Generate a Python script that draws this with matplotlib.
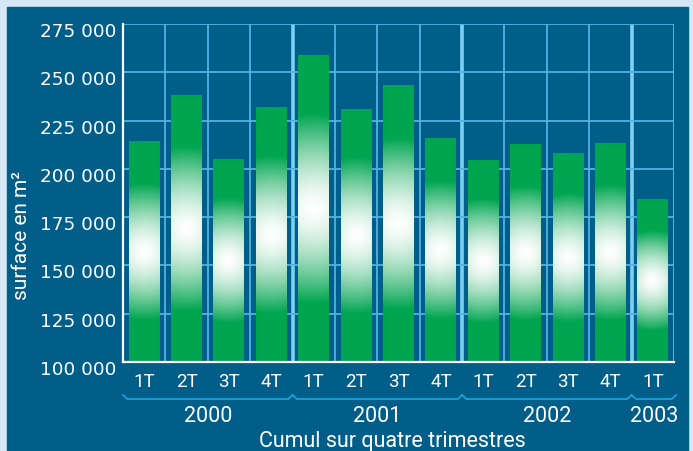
import matplotlib
matplotlib.use('Agg')
import matplotlib.pyplot as plt
import matplotlib.transforms as mtransforms
import numpy as np

# surfaces cumulated over four quarters, in m2
quarters = ['1T', '2T', '3T', '4T', '1T', '2T', '3T', '4T',
            '1T', '2T', '3T', '4T', '1T']
surface = [214400, 238200, 204600, 232000,
           258900, 230500, 242900, 215500,
           204100, 212400, 207700, 212900,
           183900]
years = ['2000', '2001', '2002', '2003']
quarters_per_year = [4, 4, 4, 1]
yticks = [100000, 125000, 150000, 175000, 200000, 225000, 250000, 275000]

BG = '#005e88'
PAGE = '#d6e7f4'
GREEN = np.array([0, 165, 80]) / 255
GRID = '#4fb3e3'
SEP = '#7dd0f5'
BRACE = '#1ea5e0'
YMIN, YMAX = 100000, 275000
BAR_W = 0.73

fig = plt.figure(figsize=(6.93, 4.52), dpi=100)
fig.patch.set_facecolor(PAGE)
# dark panel behind the chart
fig.patches.append(plt.Rectangle((7 / 693, 0), 681 / 693, 444 / 452,
                                 transform=fig.transFigure,
                                 color=BG, zorder=-10))

ax = fig.add_axes([123 / 693, 89 / 452, 551 / 693, 338 / 452])
ax.set_facecolor(BG)
n = len(surface)

# grid: thin lines between quarters, thicker ones between years
bounds = np.cumsum(quarters_per_year)[:-1] - 0.5
for k in range(n - 1):
    x = k + 0.5
    if x in bounds:
        ax.axvline(x, color=SEP, lw=2.6, zorder=1)
    else:
        ax.axvline(x, color=GRID, lw=1.3, zorder=1)
for y in yticks[1:]:
    ax.axhline(y, color=GRID, lw=1.3, zorder=1)
ax.axvline(n - 0.5, color=GRID, lw=1.5, zorder=1)

# bars filled with a round white glow in the middle
px_x = 551 / n
px_y = 338 / (YMAX - YMIN)
for i, v in enumerate(surface):
    h = v - YMIN
    ny, nx = 300, 40
    xs = (np.linspace(-BAR_W / 2, BAR_W / 2, nx)) * px_x
    ys = (np.linspace(0, h, ny) - h / 2) * px_y
    X, Y = np.meshgrid(xs, ys)
    radius = 0.31 * h * px_y
    r = np.sqrt(X ** 2 + Y ** 2) / radius
    t = np.clip(1 - r ** 1.5, 0, 1)[..., None]
    img = GREEN * (1 - t) + t
    ax.imshow(img, extent=[i - BAR_W / 2, i + BAR_W / 2, YMIN, v],
              origin='lower', aspect='auto', zorder=2, interpolation='bilinear')
ax.set_xlim(-0.5, n - 0.5)
ax.set_ylim(YMIN, YMAX)

for side in ['top', 'right']:
    ax.spines[side].set_visible(False)
for side in ['left', 'bottom']:
    ax.spines[side].set_color('white')
    ax.spines[side].set_linewidth(1.6)
    ax.spines[side].set_zorder(3)

ax.set_yticks(yticks)
ax.set_yticklabels([f'{t:,}'.replace(',', ' ') for t in yticks],
                   fontsize=13.2, color='white', family='DejaVu Sans')
ax.set_xticks(range(n))
ax.set_xticklabels(quarters, fontsize=13.5, color='white', family='Roboto')
ax.tick_params(length=0)
ax.tick_params(axis='y', pad=5)
ax.tick_params(axis='x', pad=7)
shift = mtransforms.ScaledTranslation(0, -5 / 100, fig.dpi_scale_trans)
for lbl in ax.get_yticklabels():
    lbl.set_transform(lbl.get_transform() + shift)

# year braces under the quarter labels
tr = mtransforms.blended_transform_factory(ax.transData, ax.transAxes)
base, peak = -0.1095, -0.0976
d = 0.1
start = -0.5
for year, cnt in zip(years, quarters_per_year):
    end = start + cnt
    if year == years[-1]:
        end = start + cnt + 0.05
    ax.plot([start, start + d, end - d, end], [peak, base, base, peak],
            transform=tr, color=BRACE, lw=1.2, clip_on=False)
    ax.text((start + end) / 2, -0.157, year, transform=tr, ha='center',
            va='center', fontsize=15.5, color='white', family='Roboto')
    start = start + cnt

fig.text(392 / 693, 1 - 442 / 452, 'Cumul sur quatre trimestres',
         ha='center', va='center', fontsize=15.5, color='white', family='Roboto')
fig.text(22 / 693, 1 - 235 / 452, 'surface en m²', rotation=90,
         ha='center', va='center', fontsize=15, color='white', family='Roboto')

fig.savefig('out.png', dpi=100, facecolor=PAGE)
